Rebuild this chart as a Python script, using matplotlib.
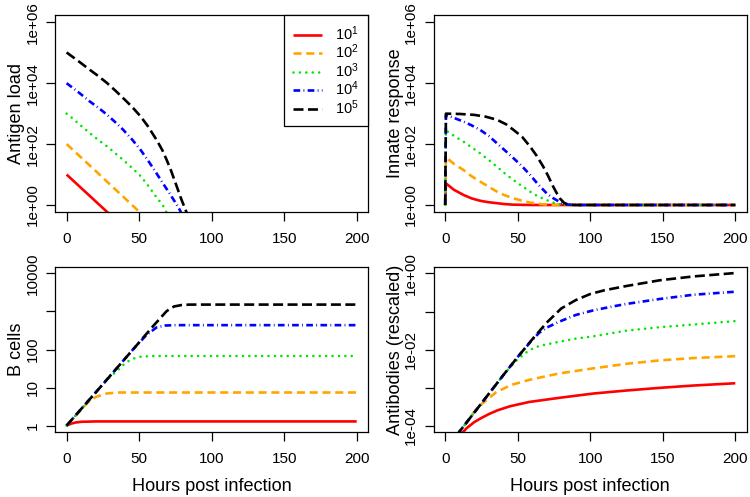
import numpy as np
import matplotlib
matplotlib.use("Agg")
import matplotlib.pyplot as plt
from matplotlib.ticker import NullLocator

plt.rcParams['font.family'] = ['Liberation Sans', 'DejaVu Sans']
plt.rcParams['mathtext.fontset'] = 'custom'
plt.rcParams['mathtext.rm'] = 'Liberation Sans'
plt.rcParams['mathtext.it'] = 'Liberation Sans:italic'
plt.rcParams['lines.scale_dashes'] = False

#---data (log10 of the plotted values)---#
doses = ['$10^{1}$', '$10^{2}$', '$10^{3}$', '$10^{4}$', '$10^{5}$']

# antigen load
ag_t_1 = [0, 10, 20, 30, 33]
ag_1 = [1.0, 0.56, 0.12, -0.32, -0.45]
ag_t_2 = [0, 10, 20, 30, 40, 50, 53]
ag_2 = [2.0, 1.56, 1.12, 0.67, 0.23, -0.22, -0.35]
ag_t_3 = [0, 4, 10, 16, 22, 28, 34, 39, 45, 51, 56, 60, 64, 67, 70]
ag_3 = [3.0, 2.85, 2.60, 2.36, 2.13, 1.92, 1.68, 1.48, 1.22, 0.95, 0.65, 0.38, 0.13, -0.06, -0.35]
ag_t_4 = [0, 8, 16, 22, 28, 34, 39, 45, 51, 56, 62, 66, 71, 75, 78, 80]
ag_4 = [4.0, 3.71, 3.40, 3.19, 2.96, 2.70, 2.47, 2.16, 1.81, 1.47, 1.04, 0.74, 0.38, 0.08, -0.16, -0.35]
ag_t_5 = [0, 8, 16, 22, 28, 34, 39, 45, 51, 56, 62, 66, 69, 72, 76, 79, 82, 84]
ag_5 = [5.01, 4.73, 4.44, 4.23, 4.0, 3.74, 3.51, 3.23, 2.91, 2.59, 2.14, 1.80, 1.48, 1.13, 0.60, 0.20, -0.16, -0.40]

# innate response
inn_t_1 = [0, 0.5, 6, 12.6, 18, 24, 30, 35.6, 41, 47, 60, 200]
inn_1 = [0, 0.71, 0.50, 0.33, 0.22, 0.14, 0.09, 0.06, 0.03, 0.01, 0, 0]
inn_t_2 = [0, 0.5, 6, 12.6, 18, 24, 30, 35.6, 41, 47, 53, 58.5, 64, 70, 78, 200]
inn_2 = [0, 1.57, 1.35, 1.15, 0.95, 0.77, 0.60, 0.44, 0.32, 0.22, 0.14, 0.08, 0.04, 0.01, 0, 0]
inn_t_3 = [0, 0.5, 6, 12.6, 18, 24, 30, 35.6, 41, 47, 53, 58.5, 64, 70, 75, 79, 86, 200]
inn_3 = [0, 2.45, 2.27, 2.08, 1.90, 1.70, 1.48, 1.26, 1.04, 0.82, 0.62, 0.44, 0.28, 0.16, 0.07, 0.03, 0, 0]
inn_t_4 = [0, 0.5, 6, 12.6, 18, 24, 30, 35.6, 41, 47, 53, 58.5, 64, 70, 73.5, 76.8, 81.4, 88, 200]
inn_4 = [0, 2.95, 2.86, 2.74, 2.62, 2.47, 2.27, 2.03, 1.80, 1.54, 1.27, 0.99, 0.68, 0.38, 0.25, 0.16, 0.03, 0, 0]
inn_t_5 = [0, 0.5, 10, 20, 28, 35.6, 42, 47, 53, 58.5, 63, 67.6, 71, 74.5, 77, 79, 82, 85, 90, 200]
inn_5 = [0, 3.0, 2.99, 2.96, 2.90, 2.80, 2.65, 2.47, 2.24, 1.92, 1.62, 1.26, 0.95, 0.60, 0.38, 0.22, 0.07, 0.01, 0, 0]

# B cells
b_t_1 = [0, 3, 6, 10, 20, 200]
b_1 = [0, 0.05, 0.08, 0.10, 0.11, 0.11]
b_t_2 = [0, 5, 10, 15, 20, 27, 35, 200]
b_2 = [0, 0.21, 0.42, 0.62, 0.75, 0.84, 0.87, 0.87]
b_t_3 = [0, 23, 30, 35, 41, 46, 51, 60, 200]
b_3 = [0, 1.0, 1.28, 1.45, 1.66, 1.76, 1.81, 1.83, 1.83]
b_t_4 = [0, 23, 46, 55, 62, 68, 75, 200]
b_4 = [0, 1.0, 2.01, 2.38, 2.58, 2.63, 2.64, 2.64]
b_t_5 = [0, 23, 46, 60, 69, 74, 79.5, 85, 200]
b_5 = [0, 1.0, 2.01, 2.63, 3.01, 3.13, 3.17, 3.18, 3.18]

# antibodies (rescaled)
ab_t_1 = [11, 12, 15, 20, 24, 30, 36, 45, 58, 79, 102, 125, 148, 171, 200]
ab_1 = [-4.3, -4.17, -4.05, -3.90, -3.81, -3.69, -3.59, -3.48, -3.37, -3.26, -3.15, -3.07, -3.0, -2.94, -2.88]
ab_t_2 = [8, 10, 15, 20, 25, 35, 45, 58, 79, 102, 125, 148, 171, 200]
ab_2 = [-4.25, -4.14, -3.90, -3.63, -3.43, -3.12, -2.93, -2.79, -2.62, -2.49, -2.37, -2.28, -2.22, -2.17]
ab_t_3 = [8, 10, 20, 30, 40, 45, 50, 58, 65, 79, 90, 102, 125, 148, 171, 200]
ab_3 = [-4.25, -4.14, -3.65, -3.16, -2.67, -2.45, -2.25, -2.01, -1.90, -1.79, -1.71, -1.65, -1.50, -1.41, -1.34, -1.25]
ab_t_4 = [8, 10, 20, 30, 40, 50, 60, 65, 70, 79, 90, 102, 115, 125, 148, 171, 200]
ab_4 = [-4.25, -4.14, -3.65, -3.16, -2.67, -2.19, -1.74, -1.55, -1.42, -1.26, -1.09, -0.97, -0.87, -0.80, -0.67, -0.56, -0.48]
ab_t_5 = [8, 10, 20, 30, 40, 50, 60, 70, 80, 90, 100, 110, 125, 148, 171, 200]
ab_5 = [-4.25, -4.14, -3.65, -3.16, -2.67, -2.19, -1.73, -1.29, -0.92, -0.70, -0.54, -0.44, -0.33, -0.18, -0.08, 0.01]

#---styles, one per dose (R lty 1..5)---#
colors = ['#FF0000', '#FFA500', '#00E600', '#0000FF', '#000000']
dashes = [None, (5.8, 3.4), (0.01, 4.6), (4.8, 2.4, 0.6, 2.4), (7.2, 3.2)]
caps = ['butt', 'butt', 'round', 'butt', 'butt']
LW = 1.9

fig = plt.figure(figsize=(7.5, 4.97), dpi=100)

W, H = 750.0, 497.0
def px_axes(x0, y0, x1, y1):
    # box given in pixels of the reference picture
    return fig.add_axes([x0 / W, 1 - y1 / H, (x1 - x0) / W, (y1 - y0) / H])

ax_ag = px_axes(55.0, 15.0, 368.3, 212.3)
ax_inn = px_axes(433.6, 15.0, 746.9, 212.3)
ax_b = px_axes(55.0, 267.3, 368.3, 431.7)
ax_ab = px_axes(433.6, 267.3, 746.9, 431.7)

def draw(ax, ts, ys):
    for i in range(5):
        line, = ax.plot(ts[i], 10 ** np.array(ys[i]), color=colors[i], lw=LW,
                        solid_capstyle='butt', solid_joinstyle='round',
                        dash_capstyle=caps[i], label=doses[i])
        if dashes[i] is not None:
            line.set_dashes(dashes[i])

draw(ax_ag, [ag_t_1, ag_t_2, ag_t_3, ag_t_4, ag_t_5], [ag_1, ag_2, ag_3, ag_4, ag_5])
draw(ax_inn, [inn_t_1, inn_t_2, inn_t_3, inn_t_4, inn_t_5], [inn_1, inn_2, inn_3, inn_4, inn_5])
draw(ax_b, [b_t_1, b_t_2, b_t_3, b_t_4, b_t_5], [b_1, b_2, b_3, b_4, b_5])
draw(ax_ab, [ab_t_1, ab_t_2, ab_t_3, ab_t_4, ab_t_5], [ab_1, ab_2, ab_3, ab_4, ab_5])

#---axes cosmetics (R base look)---#
top_ticks = [1, 1e2, 1e4, 1e6]
top_labels = ['1e+00', '1e+02', '1e+04', '1e+06']
b_ticks = [1, 10, 100, 1000, 10000]
b_labels = ['1', '10', '100', '', '10000']
ab_ticks = [1e-4, 1e-3, 1e-2, 1e-1, 1]
ab_labels = ['1e-04', '', '1e-02', '', '1e+00']

setup = [
    (ax_ag, top_ticks, top_labels, (-0.24, 6.24), 'Antigen load'),
    (ax_inn, top_ticks, top_labels, (-0.24, 6.24), 'Innate response'),
    (ax_b, b_ticks, b_labels, (-0.16, 4.16), 'B cells'),
    (ax_ab, ab_ticks, ab_labels, (-4.15, 0.16), 'Antibodies (rescaled)'),
]
for ax, yt, yl, lims, ylab in setup:
    ax.set_yscale('log')
    ax.set_ylim(10 ** lims[0], 10 ** lims[1])
    ax.set_yticks(yt, labels=yl)
    ax.yaxis.set_minor_locator(NullLocator())
    ax.set_xlim(-8, 208)
    ax.set_xticks([0, 50, 100, 150, 200])
    for s in ax.spines.values():
        s.set_linewidth(0.9)
    ax.tick_params(direction='out', length=6.5, width=0.9, labelsize=11)
    ax.tick_params(axis='x', pad=8.0)
    ax.tick_params(axis='y', pad=4.5, labelrotation=90)
    for lab in ax.get_yticklabels():
        lab.set_va('center')
    ax.set_ylabel(ylab, fontsize=13.1)
    ax.yaxis.set_label_coords(-30.0 / 313.3, 0.5)

for ax in (ax_b, ax_ab):
    ax.set_xlabel('Hours post infection', fontsize=13.1)
    ax.xaxis.set_label_coords(0.5, -46.6 / 164.4)

leg = ax_ag.legend(loc='upper right', bbox_to_anchor=(1, 1), borderaxespad=0,
                   fancybox=False, edgecolor='black', framealpha=1, fontsize=10.5,
                   handlelength=2.0, handletextpad=0.9, labelspacing=0.0,
                   borderpad=0.62)
leg.get_frame().set_linewidth(0.9)

fig.savefig('out.png', dpi=100)
